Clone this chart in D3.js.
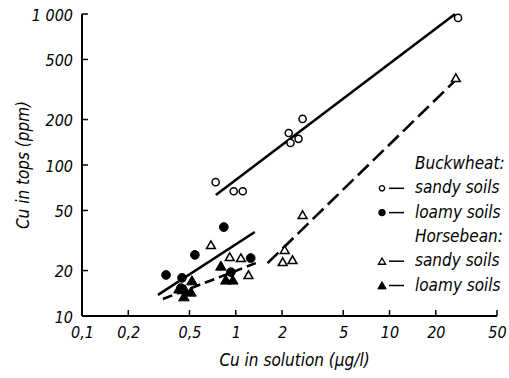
<!DOCTYPE html>
<html>
<head>
<meta charset="utf-8">
<script src="https://cdn.jsdelivr.net/npm/d3@7"></script>
<style>
  html, body { margin: 0; padding: 0; background: #fff; }
  svg { display: block; }
  text { font-family: "DejaVu Sans Condensed", "Liberation Sans Narrow", sans-serif; font-style: italic; fill: #000; }
</style>
</head>
<body>
<script>
// ---- data ----
const xTicks = [0.1, 0.2, 0.5, 1, 2, 5, 10, 20, 50];
const xTickLabels = ["0,1", "0,2", "0,5", "1", "2", "5", "10", "20", "50"];
const yTicks = [10, 20, 50, 100, 200, 500, 1000];
const yTickLabels = ["10", "20", "50", "100", "200", "500", "1 000"];

const buckSandyX = [0.74, 0.97, 1.11, 2.21, 2.27, 2.56, 2.72, 27.9];
const buckSandyY = [77, 67, 67, 163, 140, 149, 202, 942];

const buckLoamyX = [0.352, 0.447, 0.542, 0.836, 1.25, 0.93, 0.44];
const buckLoamyY = [18.7, 17.9, 25.4, 38.8, 24.2, 19.5, 15.3];

const horseSandyX = [0.689, 0.914, 1.08, 1.21, 2.08, 2.02, 2.34, 2.72, 27];
const horseSandyY = [29.5, 24.6, 24.2, 18.7, 27.4, 22.8, 23.5, 46.7, 377];

const horseLoamyX = [0.519, 0.427, 0.467, 0.511, 0.46, 0.80, 0.861, 0.956];
const horseLoamyY = [17.1, 15.1, 14.9, 14.4, 13.4, 21.4, 17.3, 17.3];

// fitted lines (endpoints)
const lineBuckSandy = [[0.742, 63.3], [26.7, 1000]];
const lineBuckLoamy = [[0.312, 13.8], [1.33, 36.0]];
const lineHorseSandy = [[1.61, 22.4], [27, 366]];
const lineHorseLoamy = [[0.336, 12.96], [1.35, 22.4]];

const legendItems = [
  { type: "head", label: "Buckwheat:" },
  { type: "circle-open", label: "sandy soils" },
  { type: "circle-filled", label: "loamy soils" },
  { type: "head", label: "Horsebean:" },
  { type: "tri-open", label: "sandy soils" },
  { type: "tri-filled", label: "loamy soils" }
];

// ---- layout ----
const W = 509, H = 378;
const svg = d3.select("body").append("svg").attr("width", W).attr("height", H);

const x = d3.scaleLog().domain([0.1, 50]).range([82, 497]);
const y = d3.scaleLog().domain([10, 1000]).range([316, 14]);

// axes
const xAxis = d3.axisBottom(x).tickValues(xTicks).tickSize(0).tickPadding(8)
  .tickFormat((d, i) => xTickLabels[i]);
const gx = svg.append("g").attr("transform", `translate(0,${y(10)})`).call(xAxis);
gx.select(".domain").remove();
gx.selectAll("text").attr("font-size", 16).attr("font-family", null).attr("dy", "0.9em");

const yAxis = d3.axisLeft(y).tickValues(yTicks).tickSize(0).tickPadding(9)
  .tickFormat((d, i) => yTickLabels[i]);
const gy = svg.append("g").attr("transform", `translate(${x(0.1)},0)`).call(yAxis);
gy.select(".domain").remove();
gy.selectAll("text").attr("font-size", 16).attr("font-family", null).attr("dy", "0.4em");

// axis lines
svg.append("line").attr("x1", x(0.1)).attr("x2", x(50)).attr("y1", y(10)).attr("y2", y(10))
  .attr("stroke", "#000").attr("stroke-width", 2);
svg.append("line").attr("x1", x(0.1)).attr("x2", x(0.1)).attr("y1", y(10)).attr("y2", y(1000))
  .attr("stroke", "#000").attr("stroke-width", 2);

// inward ticks
svg.selectAll(".xt").data(xTicks.slice(1)).enter().append("line")
  .attr("x1", d => x(d)).attr("x2", d => x(d)).attr("y1", y(10)).attr("y2", y(10) - 6)
  .attr("stroke", "#000").attr("stroke-width", 1.5);
svg.selectAll(".yt").data(yTicks.slice(1)).enter().append("line")
  .attr("x1", x(0.1)).attr("x2", x(0.1) + 6).attr("y1", d => y(d)).attr("y2", d => y(d))
  .attr("stroke", "#000").attr("stroke-width", 1.5);

// axis titles
svg.append("text").attr("x", (x(0.1) + x(50)) / 2 + 5).attr("y", 366)
  .attr("text-anchor", "middle").attr("font-size", 17).text("Cu in solution (μg/l)");
svg.append("text").attr("transform", `translate(29,${(y(10) + y(1000)) / 2}) rotate(-90)`)
  .attr("text-anchor", "middle").attr("font-size", 17).text("Cu in tops (ppm)");

// lines
const lg = d3.line().x(d => x(d[0])).y(d => y(d[1]));
svg.append("path").attr("d", lg(lineBuckSandy)).attr("stroke", "#000").attr("stroke-width", 2.6).attr("fill", "none");
svg.append("path").attr("d", lg(lineBuckLoamy)).attr("stroke", "#000").attr("stroke-width", 2.6).attr("fill", "none");
svg.append("path").attr("d", lg(lineHorseSandy)).attr("stroke", "#000").attr("stroke-width", 2.6).attr("fill", "none")
  .attr("stroke-dasharray", "15,6");
svg.append("path").attr("d", lg(lineHorseLoamy)).attr("stroke", "#000").attr("stroke-width", 2.6).attr("fill", "none")
  .attr("stroke-dasharray", "10,5");

// markers
const circ = d3.symbol().type(d3.symbolCircle);
const tri = d3.symbol().type(d3.symbolTriangle);

function drawPts(xs, ys, kind) {
  const data = xs.map((v, i) => [v, ys[i]]);
  const g = svg.append("g");
  g.selectAll("path").data(data).enter().append("path")
    .attr("transform", d => `translate(${x(d[0])},${y(d[1]) + (kind.startsWith("tri") ? 1 : 0)})`)
    .attr("d", kind.startsWith("tri") ? tri.size(kind === "tri-open" ? 34 : 48)() : circ.size(kind === "circle-open" ? 40 : 60)())
    .attr("fill", kind.endsWith("open") ? "#fff" : "#000")
    .attr("stroke", "#000")
    .attr("stroke-width", kind.endsWith("open") ? 1.5 : 1);
}
drawPts(buckSandyX, buckSandyY, "circle-open");
drawPts(buckLoamyX, buckLoamyY, "circle-filled");
drawPts(horseSandyX, horseSandyY, "tri-open");
drawPts(horseLoamyX, horseLoamyY, "tri-filled");

// legend
const legX = 415, legY0 = 169, legStep = 24.3;
const lgG = svg.append("g");
legendItems.forEach((it, i) => {
  const yy = legY0 + i * legStep;
  lgG.append("text").attr("x", legX).attr("y", yy).attr("font-size", 17).text(it.label);
  if (it.type !== "head") {
    const cy = yy - 5;
    const isTri = it.type.startsWith("tri");
    lgG.append("path")
      .attr("transform", `translate(382,${cy + (isTri ? 1 : 0)})`)
      .attr("d", isTri ? tri.size(it.type === "tri-open" ? 22 : 30)() : circ.size(it.type === "circle-open" ? 22 : 34)())
      .attr("fill", it.type.endsWith("open") ? "#fff" : "#000")
      .attr("stroke", "#000").attr("stroke-width", it.type.endsWith("open") ? 1.3 : 1);
    lgG.append("line").attr("x1", 389).attr("x2", 404).attr("y1", cy).attr("y2", cy)
      .attr("stroke", "#000").attr("stroke-width", 1.5);
  }
});
</script>
</body>
</html>
